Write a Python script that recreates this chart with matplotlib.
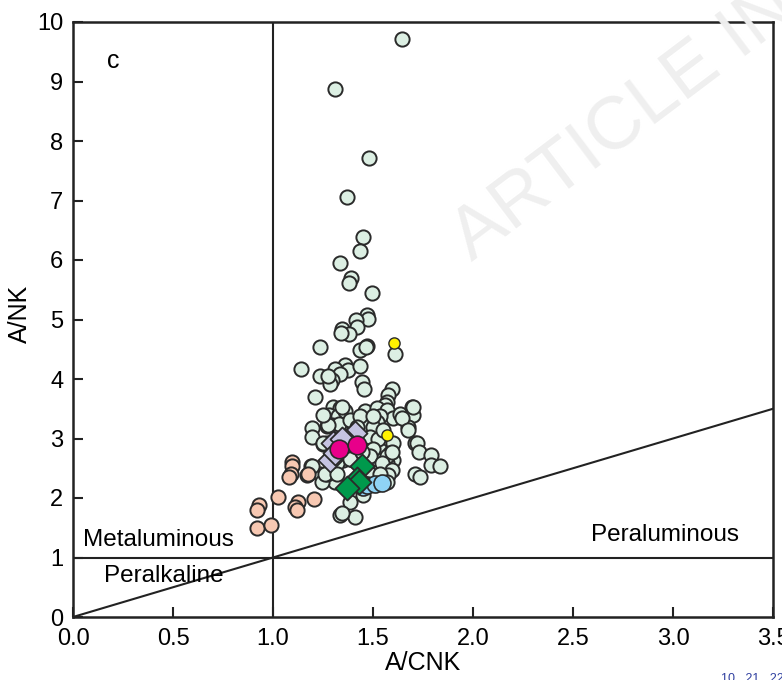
import matplotlib
matplotlib.use('Agg')
import matplotlib.pyplot as plt
import numpy as np

plt.rcParams['font.family'] = ['Liberation Sans', 'DejaVu Sans']

# light green circles (main sample group)
grp_x = [1.643, 1.308, 1.478, 1.370, 1.450, 1.437, 1.335, 1.390, 1.378, 1.493,
         1.468, 1.473, 1.415, 1.343, 1.418, 1.382, 1.340, 1.470, 1.435, 1.465,
         1.610, 1.235, 1.140, 1.235, 1.360, 1.310, 1.377, 1.435, 1.335, 1.293,
         1.285, 1.277, 1.443, 1.455, 1.593, 1.577, 1.568, 1.560, 1.210, 1.302,
         1.335, 1.282, 1.327, 1.360, 1.460, 1.522, 1.568, 1.602, 1.635, 1.693,
         1.700, 1.535, 1.443, 1.477, 1.518, 1.193, 1.293, 1.335, 1.193, 1.268,
         1.332, 1.252, 1.502, 1.493, 1.535, 1.602, 1.585, 1.602, 1.677, 1.710,
         1.710, 1.352, 1.402, 1.468, 1.527, 1.568, 1.535, 1.235, 1.285, 1.310,
         1.188, 1.243, 1.452, 1.385, 1.335, 1.410, 1.543, 1.698, 1.643, 1.677,
         1.718, 1.732, 1.788, 1.788, 1.835, 1.735, 1.168, 1.268, 1.502, 1.485,
         1.527, 1.552, 1.502, 1.485, 1.568, 1.593, 1.543, 1.593, 1.577, 1.343,
         1.260, 1.318, 1.318, 1.268, 1.277, 1.252, 1.343, 1.385, 1.435, 1.502,
         1.418, 1.385, 1.443, 1.485, 1.535, 1.568, 1.193, 1.250]
grp_y = [9.71, 8.87, 7.71, 7.06, 6.38, 6.15, 5.95, 5.69, 5.61, 5.44,
         5.08, 5.01, 4.99, 4.84, 4.88, 4.76, 4.78, 4.55, 4.49, 4.53,
         4.42, 4.54, 4.16, 4.05, 4.24, 4.16, 4.15, 4.22, 4.09, 3.99,
         3.92, 4.05, 3.95, 3.83, 3.84, 3.73, 3.62, 3.56, 3.70, 3.53,
         3.52, 3.39, 3.37, 3.47, 3.47, 3.51, 3.48, 3.34, 3.42, 3.53,
         3.39, 3.37, 3.28, 3.23, 3.28, 3.17, 3.23, 3.20, 3.03, 3.21,
         3.24, 2.91, 3.03, 2.92, 2.81, 2.92, 2.75, 2.64, 3.20, 2.92,
         2.41, 2.64, 2.64, 2.70, 2.64, 2.58, 2.47, 2.41, 2.47, 2.27,
         2.53, 2.27, 2.05, 1.94, 1.71, 1.68, 2.33, 3.53, 3.34, 3.14,
         2.92, 2.78, 2.72, 2.55, 2.54, 2.36, 2.39, 2.41, 3.20, 3.03,
         3.00, 3.14, 2.83, 2.70, 2.70, 2.78, 2.58, 2.47, 2.39, 1.74,
         2.41, 2.58, 2.41, 2.92, 3.23, 3.39, 3.53, 3.31, 3.37, 3.37,
         3.20, 2.66, 2.78, 2.41, 2.41, 2.27, 2.53, 2.92]

# salmon circles
sal_x = [1.093, 1.093, 1.088, 1.082, 1.177, 1.027, 1.127, 1.110, 1.118, 1.205,
         0.932, 0.918, 0.918, 0.988]
sal_y = [2.61, 2.53, 2.41, 2.35, 2.41, 2.02, 1.94, 1.85, 1.79, 1.99,
         1.88, 1.79, 1.49, 1.55]

# lavender diamonds
lav_x = [1.410, 1.365, 1.300, 1.285, 1.310, 1.345]
lav_y = [3.09, 2.95, 2.92, 2.64, 2.76, 3.00]

# magenta circles
mag_x = [1.332, 1.422]
mag_y = [2.83, 2.89]

# green diamonds
grn_x = [1.443, 1.420, 1.430, 1.368]
grn_y = [2.53, 2.32, 2.27, 2.16]

# light blue circles
blu_x = [1.450, 1.468, 1.510, 1.547]
blu_y = [2.19, 2.22, 2.24, 2.26]

# yellow circles
yel_x = [1.607, 1.568]
yel_y = [4.60, 3.06]

fig = plt.figure(figsize=(7.82, 6.8), dpi=100)
ax = fig.add_axes([73 / 782, 1 - 617 / 680, 700 / 782, 595 / 680])

# faint watermark
fig.text(0.615, 0.598, 'ARTICLE IN PRESS', fontsize=54, color='#efefef',
         rotation=37, ha='left', va='bottom', rotation_mode='anchor', zorder=0)

ax.set_xlim(0, 3.5)
ax.set_ylim(0, 10)
ax.patch.set_alpha(0)

# field boundaries
ax.axvline(1.0, color='#222222', lw=1.5, zorder=1)
ax.axhline(1.0, color='#222222', lw=1.5, zorder=1)
ax.plot([0, 3.5], [0, 3.5], color='#222222', lw=1.5, zorder=1)

ec = '#2a2a2a'
ax.scatter(grp_x, grp_y, s=105, c='#dcefe3', edgecolors=ec, linewidths=1.4, zorder=3)
ax.scatter(sal_x, sal_y, s=105, c='#f7c8b2', edgecolors=ec, linewidths=1.4, zorder=3)
ax.scatter(lav_x, lav_y, s=150, marker='D', c='#c5c3e2', edgecolors=ec,
           linewidths=1.3, zorder=4)
ax.scatter(mag_x, mag_y, s=180, c='#e8008a', edgecolors=ec, linewidths=1.2, zorder=5)
ax.scatter(grn_x, grn_y, s=150, marker='D', c='#00994c', edgecolors=ec,
           linewidths=1.3, zorder=5)
ax.scatter(blu_x, blu_y, s=150, c='#8fd3f5', edgecolors=ec, linewidths=1.2, zorder=4)
ax.scatter(yel_x, yel_y, s=65, c='#fff200', edgecolors=ec, linewidths=1.0, zorder=6)

ax.text(0.2, 9.35, 'c', fontsize=18, ha='center', va='center')
ax.text(0.05, 1.3, 'Metaluminous', fontsize=17.5, ha='left', va='center')
ax.text(0.155, 0.69, 'Peralkaline', fontsize=17.5, ha='left', va='center')
ax.text(2.59, 1.38, 'Peraluminous', fontsize=17.5, ha='left', va='center')

ax.set_xticks(np.arange(0, 3.51, 0.5))
ax.set_xticklabels(['0.0', '0.5', '1.0', '1.5', '2.0', '2.5', '3.0', '3.5'])
ax.set_yticks(range(0, 11))
ax.tick_params(direction='in', length=7, width=1.5, labelsize=17, color='#222222')
ax.tick_params(axis='x', pad=8)
ax.tick_params(axis='y', pad=7)
for s in ax.spines.values():
    s.set_linewidth(1.8)
    s.set_color('#222222')

ax.set_xlabel('A/CNK', fontsize=18, labelpad=1)
ax.set_ylabel('A/NK', fontsize=18)
ax.yaxis.set_label_coords(-0.058, 0.51)

fig.text(0.922, -0.006, '10 , 21 , 22', fontsize=9, color='#3040a0', ha='left', va='bottom')

fig.savefig('out.png', dpi=100)
